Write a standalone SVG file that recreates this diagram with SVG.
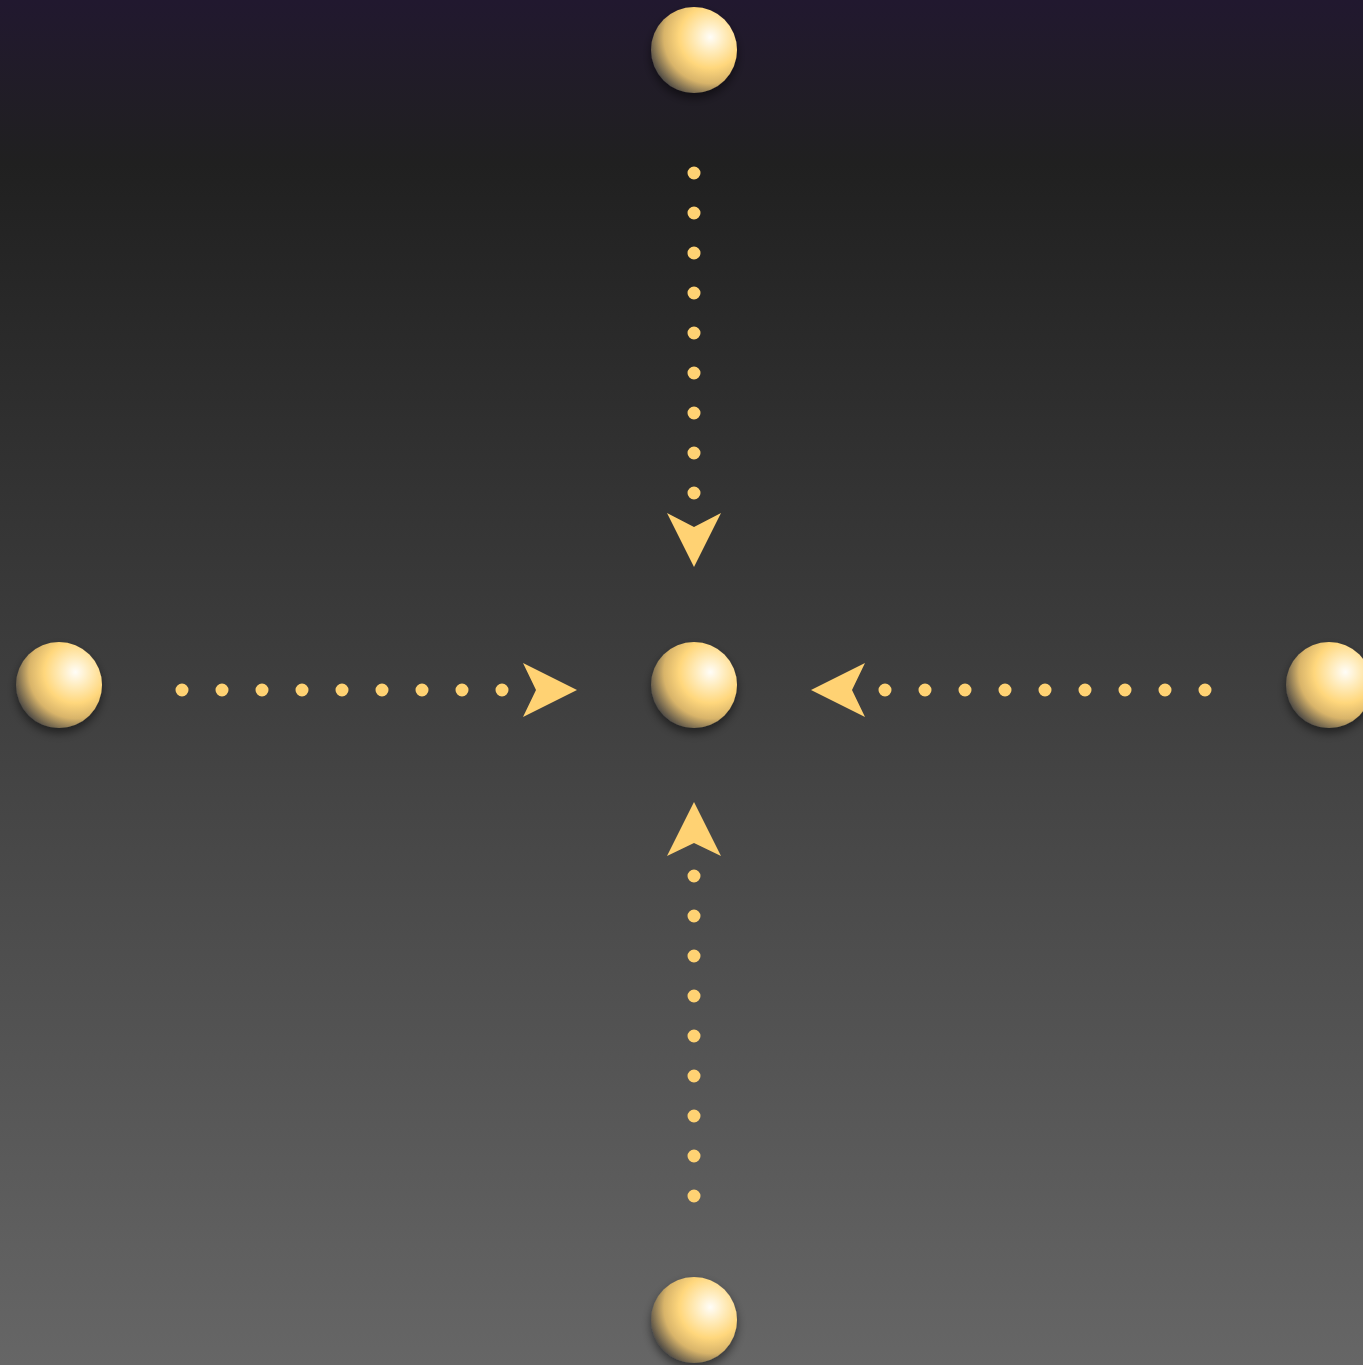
<svg xmlns="http://www.w3.org/2000/svg" width="1363" height="1365" viewBox="0 0 1363 1365">
<defs>
<linearGradient id="bg" x1="0" y1="0" x2="0" y2="1">
<stop offset="0" stop-color="#21182f"/>
<stop offset="0.12" stop-color="#202020"/>
<stop offset="1" stop-color="#666666"/>
</linearGradient>
<radialGradient id="ball" cx="0.69" cy="0.35" r="0.75" fx="0.69" fy="0.35">
<stop offset="0" stop-color="#fffdf8"/>
<stop offset="0.22" stop-color="#ffecbd"/>
<stop offset="0.48" stop-color="#ffd77c"/>
<stop offset="0.72" stop-color="#d8b46a"/>
<stop offset="1" stop-color="#4a4744"/>
</radialGradient>
<filter id="shadow" x="-50%" y="-50%" width="200%" height="200%">
<feDropShadow dx="0" dy="5" stdDeviation="5" flood-color="#000" flood-opacity="0.5"/>
</filter>
</defs>
<style>
.ball{fill:url(#ball);filter:url(#shadow)}
.dots{fill:none;stroke:#ffd273;stroke-width:13;stroke-linecap:round;stroke-dasharray:0 40}
.head{fill:#ffd273}
</style>
<rect x="0" y="0" width="1363" height="1365" fill="url(#bg)"/>
<g id="connectors">
<line class="dots" x1="694" y1="173" x2="694" y2="494"/>
<polygon class="head" points="667,513 694,527 721,513 694,567"/>
<line class="dots" x1="182" y1="690" x2="503" y2="690"/>
<polygon class="head" points="523,663 536,690 523,717 577,690"/>
<line class="dots" x1="1205" y1="690" x2="884" y2="690"/>
<polygon class="head" points="865,663 852,690 865,717 811,690"/>
<line class="dots" x1="694" y1="1196" x2="694" y2="875"/>
<polygon class="head" points="667,856 694,843 721,856 694,802"/>
</g>
<g id="node-top"><circle class="ball" cx="694" cy="50" r="43"/></g>
<g id="node-left"><circle class="ball" cx="59" cy="685" r="43"/></g>
<g id="node-center"><circle class="ball" cx="694" cy="685" r="43"/></g>
<g id="node-right"><circle class="ball" cx="1329" cy="685" r="43"/></g>
<g id="node-bottom"><circle class="ball" cx="694" cy="1320" r="43"/></g>
</svg>
